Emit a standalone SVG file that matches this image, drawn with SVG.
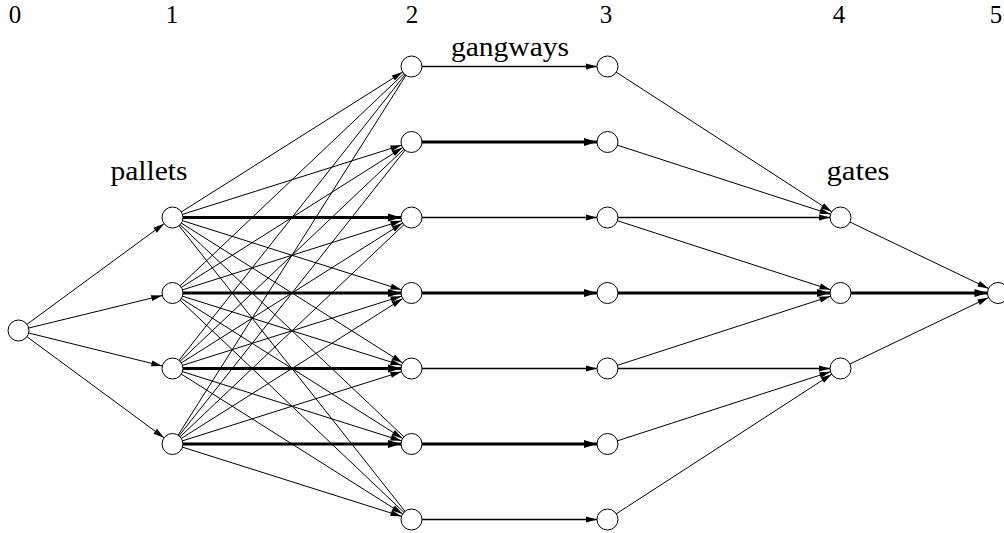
<svg xmlns="http://www.w3.org/2000/svg" width="1004" height="533" viewBox="0 0 1004 533">
<style>
.e{stroke:#000;stroke-width:1;fill:none}
.m{stroke:#000;stroke-width:1.7;fill:none}
.t{stroke:#000;stroke-width:2.8;fill:none}
.a{marker-end:url(#ah)}
.b{marker-end:url(#ahb)}
.n{fill:#fff;stroke:#000;stroke-width:1}
text{font-family:"Liberation Serif",serif;font-size:27px;fill:#000;text-anchor:middle}
text.d{font-size:25px}
</style>
<defs>
<marker id="ah" markerUnits="userSpaceOnUse" orient="auto" refX="21.5" refY="0" overflow="visible"><path d="M0,-3 L11,0 L0,3 z" fill="#000"/></marker>
<marker id="ahb" markerUnits="userSpaceOnUse" orient="auto" refX="23.5" refY="0" overflow="visible"><path d="M0,-4 L13,0 L0,4 z" fill="#000"/></marker>
</defs>
<rect width="1004" height="533" fill="#fff"/>
<g id="connectors">
<line class="e a" x1="18.5" y1="330.5" x2="172.5" y2="217.5"/>
<line class="e a" x1="18.5" y1="330.5" x2="172.5" y2="293"/>
<line class="e a" x1="18.5" y1="330.5" x2="172.5" y2="368.5"/>
<line class="e a" x1="18.5" y1="330.5" x2="172.5" y2="444"/>

<line class="e a" x1="172.5" y1="217.5" x2="411.5" y2="66.5"/>
<line class="e a" x1="172.5" y1="217.5" x2="411.5" y2="142"/>
<line class="t b" x1="172.5" y1="217.5" x2="411.5" y2="217.5"/>
<line class="e a" x1="172.5" y1="217.5" x2="411.5" y2="293"/>
<line class="e a" x1="172.5" y1="217.5" x2="411.5" y2="368.5"/>
<line class="e" x1="172.5" y1="217.5" x2="411.5" y2="444"/>
<line class="e" x1="172.5" y1="217.5" x2="411.5" y2="519.5"/>

<line class="e" x1="172.5" y1="293" x2="411.5" y2="66.5"/>
<line class="e a" x1="172.5" y1="293" x2="411.5" y2="142"/>
<line class="e a" x1="172.5" y1="293" x2="411.5" y2="217.5"/>
<line class="t b" x1="172.5" y1="293" x2="411.5" y2="293"/>
<line class="e a" x1="172.5" y1="293" x2="411.5" y2="368.5"/>
<line class="e a" x1="172.5" y1="293" x2="411.5" y2="444"/>
<line class="e" x1="172.5" y1="293" x2="411.5" y2="519.5"/>

<line class="e" x1="172.5" y1="368.5" x2="411.5" y2="66.5"/>
<line class="e" x1="172.5" y1="368.5" x2="411.5" y2="142"/>
<line class="e a" x1="172.5" y1="368.5" x2="411.5" y2="217.5"/>
<line class="e a" x1="172.5" y1="368.5" x2="411.5" y2="293"/>
<line class="t b" x1="172.5" y1="368.5" x2="411.5" y2="368.5"/>
<line class="e a" x1="172.5" y1="368.5" x2="411.5" y2="444"/>
<line class="e a" x1="172.5" y1="368.5" x2="411.5" y2="519.5"/>

<line class="e" x1="172.5" y1="444" x2="411.5" y2="66.5"/>
<line class="e" x1="172.5" y1="444" x2="411.5" y2="142"/>
<line class="e" x1="172.5" y1="444" x2="411.5" y2="217.5"/>
<line class="e a" x1="172.5" y1="444" x2="411.5" y2="293"/>
<line class="e a" x1="172.5" y1="444" x2="411.5" y2="368.5"/>
<line class="t b" x1="172.5" y1="444" x2="411.5" y2="444"/>
<line class="e a" x1="172.5" y1="444" x2="411.5" y2="519.5"/>

<line class="m a" x1="411.5" y1="66.5" x2="607.5" y2="66.5"/>
<line class="t b" x1="411.5" y1="142" x2="607.5" y2="142"/>
<line class="m a" x1="411.5" y1="217.5" x2="607.5" y2="217.5"/>
<line class="t b" x1="411.5" y1="293" x2="607.5" y2="293"/>
<line class="m a" x1="411.5" y1="368.5" x2="607.5" y2="368.5"/>
<line class="t b" x1="411.5" y1="444" x2="607.5" y2="444"/>
<line class="m a" x1="411.5" y1="519.5" x2="607.5" y2="519.5"/>

<line class="e a" x1="607.5" y1="66.5" x2="840.5" y2="217.5"/>
<line class="e a" x1="607.5" y1="142" x2="840.5" y2="217.5"/>
<line class="m a" x1="607.5" y1="217.5" x2="840.5" y2="217.5"/>
<line class="e a" x1="607.5" y1="217.5" x2="840.5" y2="293"/>
<line class="t b" x1="607.5" y1="293" x2="840.5" y2="293"/>
<line class="e a" x1="607.5" y1="368.5" x2="840.5" y2="293"/>
<line class="m a" x1="607.5" y1="368.5" x2="840.5" y2="368.5"/>
<line class="e a" x1="607.5" y1="444" x2="840.5" y2="368.5"/>
<line class="e a" x1="607.5" y1="519.5" x2="840.5" y2="368.5"/>

<line class="e a" x1="840.5" y1="217.5" x2="998" y2="293"/>
<line class="t b" x1="840.5" y1="293" x2="998" y2="293"/>
<line class="e a" x1="840.5" y1="368.5" x2="998" y2="293"/>
</g>
<g id="n0"><circle class="n" cx="18.5" cy="330.5" r="10.5"/></g>
<g id="p1"><circle class="n" cx="172.5" cy="217.5" r="10.5"/></g>
<g id="p2"><circle class="n" cx="172.5" cy="293" r="10.5"/></g>
<g id="p3"><circle class="n" cx="172.5" cy="368.5" r="10.5"/></g>
<g id="p4"><circle class="n" cx="172.5" cy="444" r="10.5"/></g>
<g id="g2a"><circle class="n" cx="411.5" cy="66.5" r="10.5"/></g>
<g id="g2b"><circle class="n" cx="411.5" cy="142" r="10.5"/></g>
<g id="g2c"><circle class="n" cx="411.5" cy="217.5" r="10.5"/></g>
<g id="g2d"><circle class="n" cx="411.5" cy="293" r="10.5"/></g>
<g id="g2e"><circle class="n" cx="411.5" cy="368.5" r="10.5"/></g>
<g id="g2f"><circle class="n" cx="411.5" cy="444" r="10.5"/></g>
<g id="g2g"><circle class="n" cx="411.5" cy="519.5" r="10.5"/></g>
<g id="g3a"><circle class="n" cx="607.5" cy="66.5" r="10.5"/></g>
<g id="g3b"><circle class="n" cx="607.5" cy="142" r="10.5"/></g>
<g id="g3c"><circle class="n" cx="607.5" cy="217.5" r="10.5"/></g>
<g id="g3d"><circle class="n" cx="607.5" cy="293" r="10.5"/></g>
<g id="g3e"><circle class="n" cx="607.5" cy="368.5" r="10.5"/></g>
<g id="g3f"><circle class="n" cx="607.5" cy="444" r="10.5"/></g>
<g id="g3g"><circle class="n" cx="607.5" cy="519.5" r="10.5"/></g>
<g id="t1"><circle class="n" cx="840.5" cy="217.5" r="10.5"/></g>
<g id="t2"><circle class="n" cx="840.5" cy="293" r="10.5"/></g>
<g id="t3"><circle class="n" cx="840.5" cy="368.5" r="10.5"/></g>
<g id="sink"><circle class="n" cx="998" cy="293" r="10.5"/></g>
<g id="labels">
<text class="d" x="15" y="23">0</text>
<text class="d" x="172" y="23">1</text>
<text class="d" x="412" y="23">2</text>
<text class="d" x="606" y="23">3</text>
<text class="d" x="839" y="23">4</text>
<text class="d" x="996" y="23">5</text>
<text x="510" y="56" textLength="118" lengthAdjust="spacingAndGlyphs">gangways</text>
<text x="149" y="180" textLength="77" lengthAdjust="spacingAndGlyphs">pallets</text>
<text x="858" y="180" textLength="63" lengthAdjust="spacingAndGlyphs">gates</text>
</g>
</svg>
